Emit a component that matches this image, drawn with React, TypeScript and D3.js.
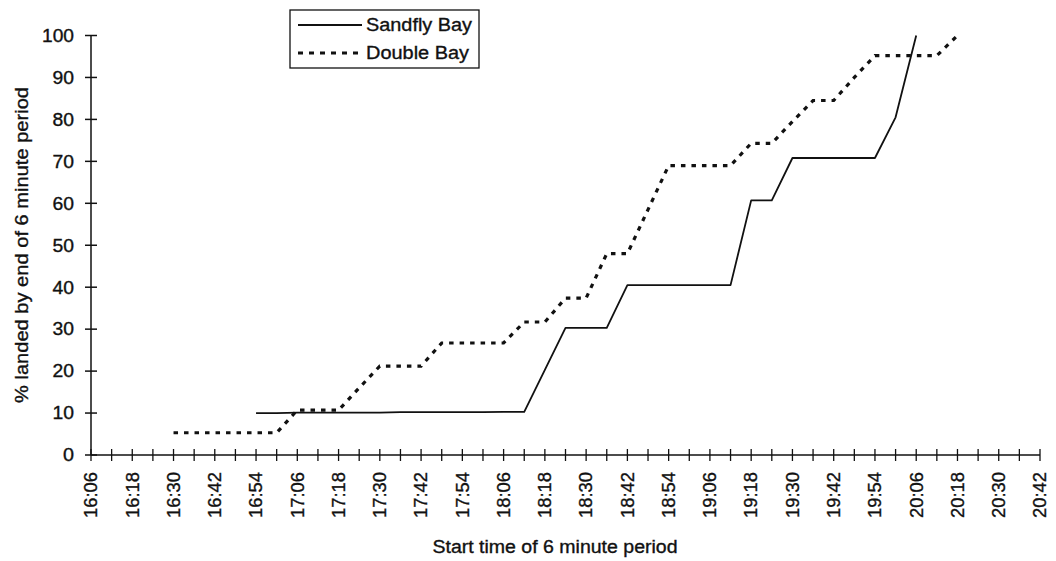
import React from "react";
import * as d3 from "d3";

// ---- data ----
const tickTimes = [
  "16:06","16:12","16:18","16:24","16:30","16:36","16:42","16:48","16:54","17:00",
  "17:06","17:12","17:18","17:24","17:30","17:36","17:42","17:48","17:54","18:00",
  "18:06","18:12","18:18","18:24","18:30","18:36","18:42","18:48","18:54","19:00",
  "19:06","19:12","19:18","19:24","19:30","19:36","19:42","19:48","19:54","20:00",
  "20:06","20:12","20:18","20:24","20:30","20:36","20:42",
];
const tickLabels = [
  "16:06","16:18","16:30","16:42","16:54","17:06","17:18","17:30","17:42","17:54",
  "18:06","18:18","18:30","18:42","18:54","19:06","19:18","19:30","19:42","19:54",
  "20:06","20:18","20:30","20:42",
];
const yTicks = [0, 10, 20, 30, 40, 50, 60, 70, 80, 90, 100];

const sandflyTimes = [
  "16:54","17:00","17:06","17:12","17:18","17:24","17:30","17:36","17:42","17:48",
  "17:54","18:00","18:06","18:12","18:18","18:24","18:30","18:36","18:42","18:48",
  "18:54","19:00","19:06","19:12","19:18","19:24","19:30","19:36","19:42","19:48",
  "19:54","20:00","20:06",
];
const sandflyValues = [
  10, 10, 10.1, 10.1, 10.1, 10.1, 10.1, 10.2, 10.2, 10.2,
  10.2, 10.2, 10.3, 10.3, 20.3, 30.3, 30.3, 30.3, 40.5, 40.5,
  40.5, 40.5, 40.5, 40.5, 60.7, 60.7, 70.8, 70.8, 70.8, 70.8,
  70.8, 80.5, 100,
];

const doubleTimes = [
  "16:30","16:36","16:42","16:48","16:54","17:00","17:06","17:12","17:18","17:24",
  "17:30","17:36","17:42","17:48","17:54","18:00","18:06","18:12","18:18","18:24",
  "18:30","18:36","18:42","18:48","18:54","19:00","19:06","19:12","19:18","19:24",
  "19:30","19:36","19:42","19:48","19:54","20:00","20:06","20:12","20:18",
];
const doubleValues = [
  5.3, 5.3, 5.3, 5.3, 5.3, 5.3, 10.7, 10.7, 10.7, 16,
  21.2, 21.2, 21.2, 26.7, 26.7, 26.7, 26.7, 31.7, 31.7, 37.4,
  37.4, 48, 48, 58.5, 69, 69, 69, 69, 74.3, 74.3,
  79.5, 84.5, 84.5, 90, 95.2, 95.2, 95.2, 95.2, 100,
];

const seriesNames = ["Sandfly Bay", "Double Bay"];
const xTitle = "Start time of 6 minute period";
const yTitle = "% landed by end of 6 minute period";

const toMin = (s: string) => {
  const [h, m] = s.split(":").map(Number);
  return h * 60 + m;
};

const FONT = "'Liberation Sans', Arial, Helvetica, sans-serif";
const INK = "#111";
const textStyle = { fill: INK, stroke: INK, strokeWidth: 0.35 };

export default function App() {
  const W = 1056, H = 561;
  const x = d3.scaleLinear().domain([toMin("16:06"), toMin("20:42")]).range([91, 1040]);
  const y = d3.scaleLinear().domain([0, 100]).range([455, 35.5]);

  const line = d3
    .line<[number, number]>()
    .x((d) => x(d[0]))
    .y((d) => y(d[1]));

  const sandfly: [number, number][] = sandflyTimes.map((t, i) => [toMin(t), sandflyValues[i]]);
  const dbl: [number, number][] = doubleTimes.map((t, i) => [toMin(t), doubleValues[i]]);

  const y0 = y(0);
  const x0 = x.range()[0];

  return (
    <svg
      width={W}
      height={H}
      style={{ position: "absolute", left: 0, top: 0, background: "#fff" }}
      fontFamily={FONT}
    >
      <rect x={0} y={0} width={W} height={H} fill="#fff" />
      {/* y axis */}
      <line x1={x0} x2={x0} y1={y(100)} y2={y0} stroke={INK} strokeWidth={1.5} />
      {yTicks.map((v) => (
        <g key={"y" + v}>
          <line x1={x0 - 6} x2={x0 + 6} y1={y(v)} y2={y(v)} stroke={INK} strokeWidth={1.5} />
          <text
            x={74}
            y={y(v)}
            dy="0.35em"
            textAnchor="end"
            fontSize={18}
            style={textStyle}
            textLength={v === 100 ? 32 : v === 0 ? 11 : 21.5}
            lengthAdjust="spacingAndGlyphs"
          >
            {v}
          </text>
        </g>
      ))}
      {/* x axis */}
      <line x1={x0} x2={x.range()[1]} y1={y0} y2={y0} stroke={INK} strokeWidth={1.5} />
      {tickTimes.map((t) => (
        <line
          key={"xt" + t}
          x1={x(toMin(t))}
          x2={x(toMin(t))}
          y1={y0 - 6}
          y2={y0 + 6}
          stroke={INK}
          strokeWidth={1.3}
        />
      ))}
      {tickLabels.map((t) => (
        <text
          key={"xl" + t}
          transform={`translate(${x(toMin(t))},472) rotate(-90)`}
          dy="0.35em"
          textAnchor="end"
          fontSize={18}
          style={textStyle}
          textLength={46}
          lengthAdjust="spacingAndGlyphs"
        >
          {t}
        </text>
      ))}
      {/* titles */}
      <text
        x={555}
        y={553}
        textAnchor="middle"
        fontSize={18}
        style={textStyle}
        textLength={245}
        lengthAdjust="spacingAndGlyphs"
      >
        {xTitle}
      </text>
      <text
        transform="translate(28,245) rotate(-90)"
        textAnchor="middle"
        fontSize={18}
        style={textStyle}
        textLength={316}
        lengthAdjust="spacingAndGlyphs"
      >
        {yTitle}
      </text>
      {/* series */}
      <path d={line(sandfly) ?? ""} fill="none" stroke={INK} strokeWidth={1.8} strokeLinejoin="round" />
      <path
        d={line(dbl) ?? ""}
        fill="none"
        stroke={INK}
        strokeWidth={3.2}
        strokeDasharray="4.5 6"
      />
      {/* legend */}
      <rect x={290} y={10} width={189} height={58} fill="#fff" stroke={INK} strokeWidth={1.3} />
      <line x1={298} x2={362} y1={25} y2={25} stroke={INK} strokeWidth={1.8} />
      <line x1={298} x2={362} y1={53} y2={53} stroke={INK} strokeWidth={3} strokeDasharray="5 6" />
      <text x={366} y={25} dy="0.35em" fontSize={18} style={textStyle} textLength={106} lengthAdjust="spacingAndGlyphs">
        {seriesNames[0]}
      </text>
      <text x={366} y={53} dy="0.35em" fontSize={18} style={textStyle} textLength={103} lengthAdjust="spacingAndGlyphs">
        {seriesNames[1]}
      </text>
    </svg>
  );
}
